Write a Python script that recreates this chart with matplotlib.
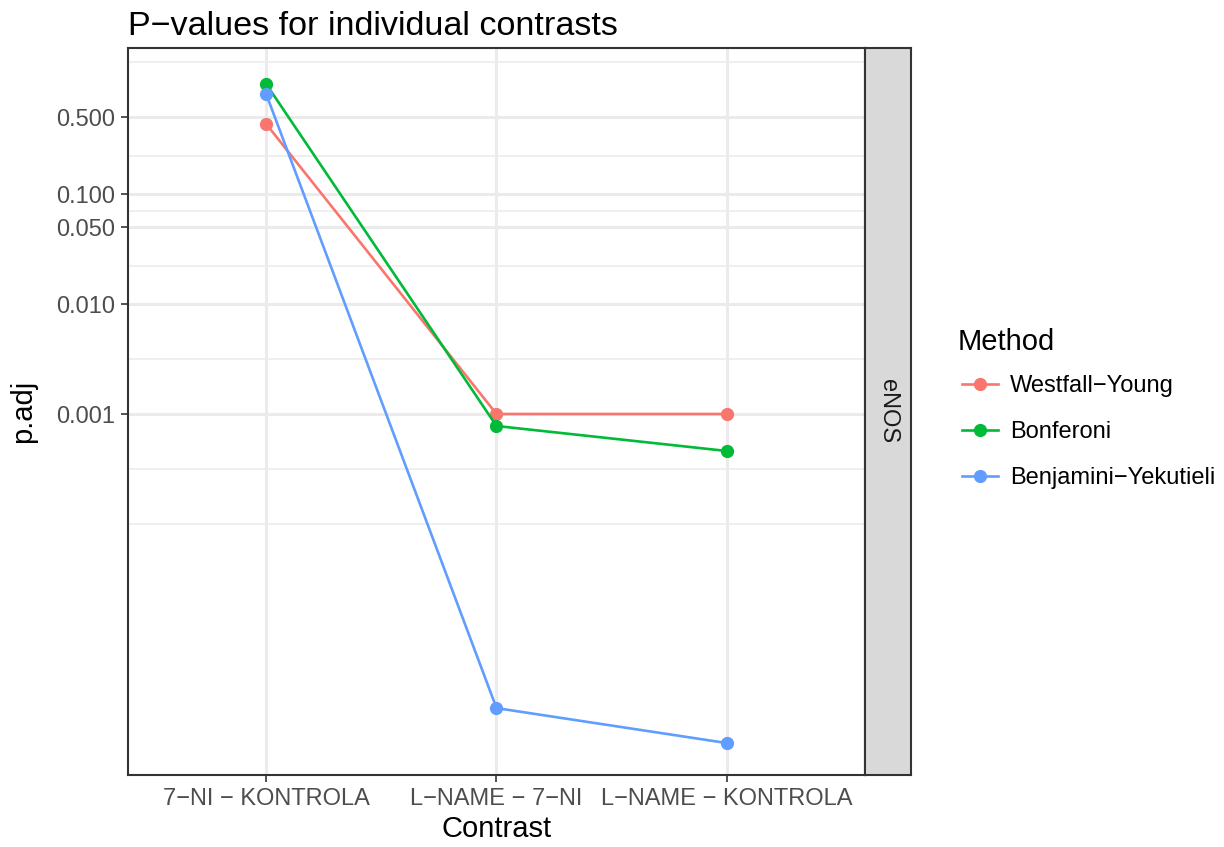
import numpy as np
import matplotlib
matplotlib.use("Agg")
import matplotlib.pyplot as plt
from matplotlib.lines import Line2D
from matplotlib.ticker import NullFormatter

plt.rcParams['font.family'] = ['Liberation Sans', 'DejaVu Sans']

# Contrasts and adjusted p-values per method
contrasts = ["7\u2212NI \u2212 KONTROLA", "L\u2212NAME \u2212 7\u2212NI", "L\u2212NAME \u2212 KONTROLA"]
methods = ["Westfall\u2212Young", "Bonferoni", "Benjamini\u2212Yekutieli"]
p_westfall = [0.433, 0.001, 0.001]
p_bonferroni = [1.0, 0.000778, 0.000461]
p_by = [0.81, 2.12e-6, 1.02e-6]
colors = ["#F8766D", "#00BA38", "#619CFF"]

y_breaks = [0.001, 0.01, 0.05, 0.1, 0.5]
y_labels = ["0.001", "0.010", "0.050", "0.100", "0.500"]
y_minor = [10**-4.0, 10**-3.5, 10**-2.5, 10**-1.65, 10**-1.15, 10**-0.65, 10**0.2]
facet = "eNOS"

W, H = 1224, 847
fig = plt.figure(figsize=(W / 100, H / 100), dpi=100)

px_l, px_r, px_t, px_b = 128, 865, 48, 775
ax = fig.add_axes([px_l / W, 1 - px_b / H, (px_r - px_l) / W, (px_b - px_t) / H])

x = np.arange(1, len(contrasts) + 1)
for vals, c, m in zip([p_westfall, p_bonferroni, p_by], colors, methods):
    ax.plot(x, vals, color=c, lw=1.9, marker='o', ms=8.5, label=m, zorder=3,
            solid_capstyle='butt')

ax.set_yscale('log')
ax.set_ylim(10**-6.2818, 10**0.3273)
ax.set_xlim(0.4, 3.6)
ax.set_yticks(y_breaks)
ax.set_yticklabels(y_labels)
ax.set_yticks(y_minor, minor=True)
ax.yaxis.set_minor_formatter(NullFormatter())
ax.set_xticks(x)
ax.set_xticklabels(contrasts)

ax.grid(True, which='major', color='#EBEBEB', lw=2.2, zorder=0)
ax.grid(True, which='minor', axis='y', color='#EBEBEB', lw=1.1, zorder=0)
ax.set_axisbelow(True)
ax.tick_params(which='minor', length=0)
ax.tick_params(which='major', length=5, width=1.2, color='#333333',
               labelcolor='#4D4D4D', labelsize=17, pad=4)
for s in ax.spines.values():
    s.set_color('#333333')
    s.set_linewidth(1.5)

ax.set_xlabel("Contrast", fontsize=21, color='black', labelpad=4)
ax.set_ylabel("p.adj", fontsize=21, color='black', labelpad=14)
fig.text(px_l / W, 1 - 35 / H, "P\u2212values for individual contrasts",
         fontsize=24.6, ha='left', va='baseline', color='black')

# facet strip
sx_r = 911
sax = fig.add_axes([px_r / W, 1 - px_b / H, (sx_r - px_r) / W, (px_b - px_t) / H])
sax.set_facecolor('#D9D9D9')
sax.set_xticks([])
sax.set_yticks([])
for s in sax.spines.values():
    s.set_color('#333333')
    s.set_linewidth(1.5)
sax.text(0.5, 0.5, facet, rotation=-90, ha='center', va='center',
         fontsize=17, color='#1A1A1A', transform=sax.transAxes)

# legend
fig.text(958 / W, 1 - 342 / H, "Method", fontsize=21, ha='left', va='center',
         color='black')
handles = [Line2D([0], [0], color=c, lw=1.9, marker='o', ms=8.5) for c in colors]
leg = fig.legend(handles, methods, loc='center left',
                 bbox_to_anchor=(962 / W, 1 - 432 / H), frameon=False,
                 fontsize=17, handlelength=1.52, borderpad=0,
                 labelspacing=1.014, handletextpad=0.5, borderaxespad=0)

fig.savefig("out.png", dpi=100)
